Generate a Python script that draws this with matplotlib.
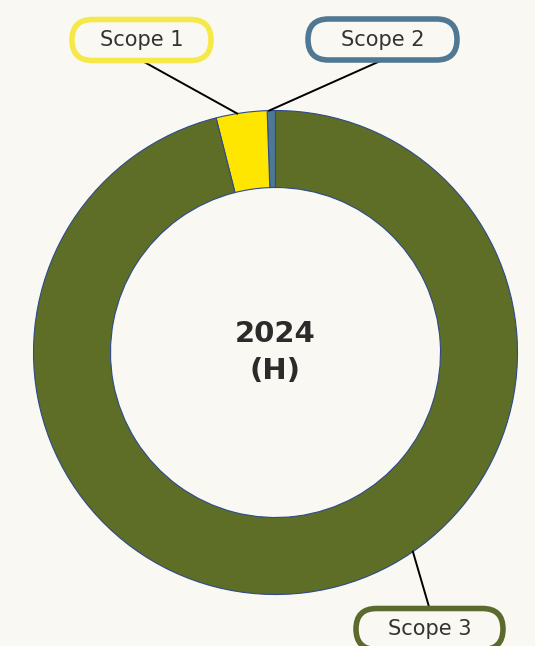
import matplotlib.pyplot as plt
from matplotlib.patches import FancyBboxPatch
import numpy as np

# Données (part des émissions, %)
labels = ["Scope 2", "Scope 1", "Scope 3"]
values = [0.55, 3.4, 96.05]
colors = ["#4E7896", "#FFE600", "#5E6E27"]
border_colors = ["#4F7894", "#F5E94A", "#5B6B2E"]
center_text = "2024\n(H)"

W, H = 535, 646
bg = "#F9F8F2"

fig = plt.figure(figsize=(W / 100, H / 100), dpi=100, facecolor=bg)
ax = fig.add_axes([0, 0, 1, 1])
ax.set_facecolor(bg)

cx, cy = 275.5, H - 352.5
R = 242
ring = 77

wedges, _ = ax.pie(
    values,
    colors=colors,
    startangle=90,
    counterclock=True,
    center=(cx, cy),
    radius=R,
    wedgeprops=dict(width=ring, edgecolor="#2E4A8A", linewidth=0.8),
)

ax.text(cx, cy, center_text, ha="center", va="center", fontsize=21,
        fontweight="bold", color="#2B2B2B", linespacing=1.45)

# étiquettes : (centre de la boîte en px, largeur, angle du point d'attache)
ang_s2 = (wedges[0].theta1 + wedges[0].theta2) / 2 + 0.5
ang_s1 = (wedges[1].theta1 + wedges[1].theta2) / 2 + 1.0
label_spec = {
    "Scope 1": ((141.5, 40), 139, ang_s1, border_colors[1]),
    "Scope 2": ((382.5, 39.5), 149, ang_s2, border_colors[0]),
    "Scope 3": ((429.5, 629), 147, -55.4, border_colors[2]),
}
bh = 41
for name, ((bx, by), bw, ang, ec) in label_spec.items():
    by = H - by
    px = cx + R * np.cos(np.radians(ang))
    py = cy + R * np.sin(np.radians(ang))
    ey = by - bh / 2 if by > cy else by + bh / 2
    ax.plot([bx, px], [ey, py], color="black", lw=1.4, zorder=3)
    box = FancyBboxPatch((bx - bw / 2, by - bh / 2), bw, bh,
                         boxstyle="round,pad=0,rounding_size=%g" % (bh / 2),
                         fc=bg, ec=ec, lw=4, zorder=4)
    ax.add_patch(box)
    ax.text(bx, by, name, ha="center", va="center", fontsize=15,
            color="#333333", zorder=5)

ax.set_xlim(0, W)
ax.set_ylim(0, H)
ax.set_aspect("equal")
ax.axis("off")

fig.savefig("out.png", dpi=100, facecolor=bg)
